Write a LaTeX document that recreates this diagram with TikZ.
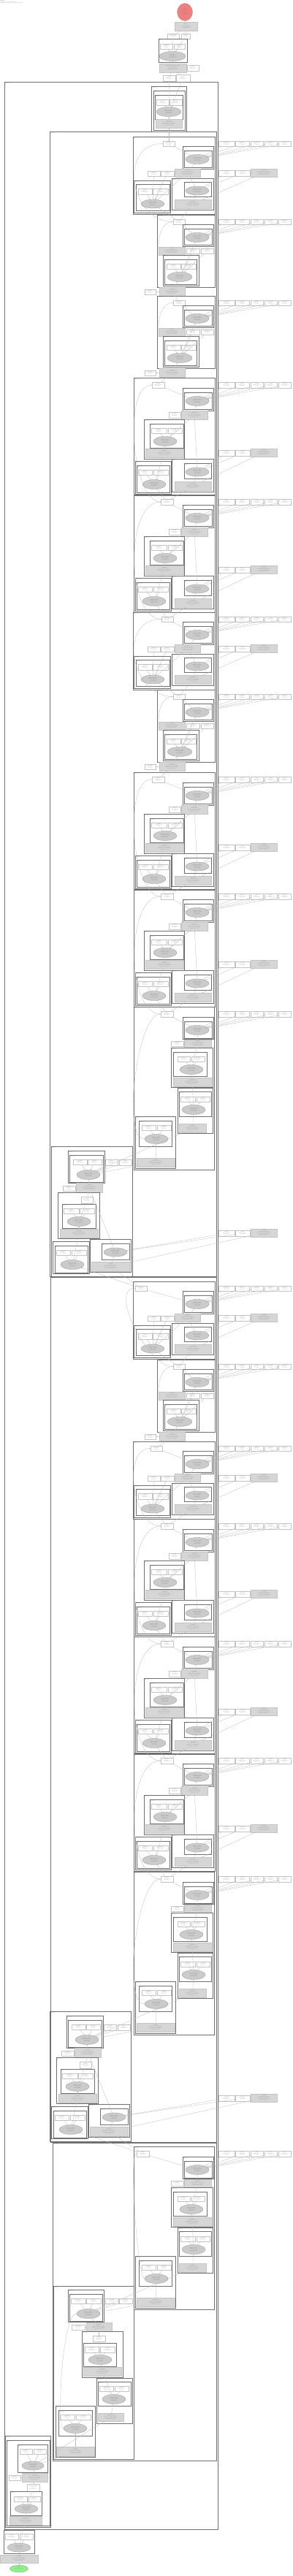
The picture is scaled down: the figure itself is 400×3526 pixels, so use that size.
\documentclass[tikz,border=0pt]{standalone}
\usetikzlibrary{arrows.meta,shapes.geometric}
\definecolor{clc}{HTML}{707070}
\definecolor{edc}{HTML}{B8B8B8}
\definecolor{gfl}{HTML}{D6D6D6}
\definecolor{bdc}{HTML}{C4C4C4}
\definecolor{redf}{HTML}{F08080}
\definecolor{grnf}{HTML}{90EE90}
\tikzset{
  every node/.style={inner sep=0pt, outer sep=0pt},
  txt/.style={font=\fontsize{1.3}{1.55}\selectfont, align=center, text=black!55},
  clus/.style={draw=clc, line width=0.45pt, rectangle},
  bigclus/.style={draw=clc, line width=0.8pt, rectangle},
  clab/.style={anchor=north west, font=\fontsize{1.05}{1.25}\selectfont, align=left, text=black!60},
  wbox/.style={txt, draw=bdc, fill=white, line width=0.25pt, rectangle},
  gbox/.style={txt, draw=gfl!92!black, fill=gfl, line width=0.2pt, rectangle},
  gell/.style={txt, draw=black!40, fill=gfl!95!black, line width=0.3pt, ellipse},
  redell/.style={txt, ellipse, draw=black!40, fill=redf, line width=0.3pt},
  grnell/.style={txt, ellipse, draw=black!40, fill=grnf, line width=0.3pt},
  edge/.style={draw=edc, line width=0.28pt, -{Stealth[length=1.3pt,width=1pt]}},
}
\newcommand\WTX{\textbf{param}\\f32[64,64,1,1]\\(weight)}
\newcommand\GTX{\textbf{conv2d}\\x: f32[1,64,56,56]\\stride=(1,1) pad=(0,0)\\groups=1 bias=False\\f32[1,64,56,56]}
\newcommand\ETX{\textbf{batch\_norm}\\f32[1,64,56,56]\\eps=1e-05\\train=False}
\newcommand\CLT{\textbf{layer}\\Bottleneck}
\newcommand\offx{0}
\newcommand\offy{0}
\newcommand\RBX[7]{%
  \pgfmathsetmacro\rba{#2+\offx}\pgfmathsetmacro\rbb{#3+\offy}%
  \pgfmathsetmacro\rbc{#4+\offx}\pgfmathsetmacro\rbd{#5+\offy}%
  \pgfmathsetmacro\rbw{\rbc-\rba}\pgfmathsetmacro\rbh{\rbd-\rbb}%
  \pgfmathsetmacro\rbx{(\rba+\rbc)/2}\pgfmathsetmacro\rby{(\rbb+\rbd)/2}%
  \node[#6, minimum width=\rbw pt, minimum height=\rbh pt] (#1) at (\rbx,\rby) {#7};}
\newcommand\CLX[6]{\RBX{#1}{#2}{#3}{#4}{#5}{clus}{}%
  \node[clab] (#1lab) at ([xshift=0.6pt,yshift=-0.4pt]#1.north west) {#6};}
\newcommand\BCX[6]{\RBX{#1}{#2}{#3}{#4}{#5}{bigclus}{}%
  \node[clab] (#1lab) at ([xshift=0.8pt,yshift=-0.6pt]#1.north west) {#6};}
\newcommand\ELX[6]{%
  \pgfmathsetmacro\rbx{#2+\offx}\pgfmathsetmacro\rby{#3+\offy}%
  \pgfmathsetmacro\rbw{2*#4}\pgfmathsetmacro\rbh{2*#5}%
  \node[gell, minimum width=\rbw pt, minimum height=\rbh pt] (#1) at (\rbx,\rby) {#6};}
\newcommand\EDX[2]{\draw[edge] (#1) -- (#2);}
\newcommand\SKX[3]{\draw[edge] (#1.west) .. controls +(-#3,0) and +(-#3,0) .. (#2.west);}
\newcommand\OFIVE[3]{%
  \RBX{#1o1}{299}{#2}{321}{#3}{wbox}{\WTX}\RBX{#1o2}{322}{#2}{341}{#3}{wbox}{\WTX}%
  \RBX{#1o3}{343}{#2}{360}{#3}{wbox}{\WTX}\RBX{#1o4}{362}{#2}{379}{#3}{wbox}{\WTX}%
  \RBX{#1o5}{381}{#2}{398}{#3}{wbox}{\WTX}%
  \foreach \k in {1,...,5}{\EDX{#1o\k}{#1re}}}
\newcommand\OTWO[4]{%
  \RBX{#1ob1}{299}{#2}{321}{#2+8}{wbox}{\WTX}%
  \RBX{#1ob2}{322}{#2}{342}{#2+8}{wbox}{\WTX}%
  \RBX{#1obg}{343}{#2-2}{379}{#2+9}{gbox}{\GTX}%
  \EDX{#1ob1}{#3}\EDX{#1ob2}{#3}\EDX{#1obg}{#4}}
% ---------- block P
\newcommand\blkP[3]{%
  \renewcommand\offx{0}\renewcommand\offy{#2}%
  \CLX{#1}{182}{0}{294}{106}{\CLT}%
  \RBX{#1tw}{#3}{6}{#3+16}{13}{wbox}{\WTX}%
  \CLX{#1rc}{250}{13}{292}{44}{\CLT}\CLX{#1rci}{252}{19}{290}{42}{\CLT}%
  \ELX{#1re}{270}{31}{16}{6.5}{\ETX}%
  \RBX{#1g1}{239}{44}{274}{55}{gbox}{\GTX}%
  \RBX{#1w1}{202}{47}{219}{54}{wbox}{\WTX}\RBX{#1w2}{220}{47}{238}{54}{wbox}{\WTX}%
  \CLX{#1lc}{183}{60}{233}{104}{\CLT}\CLX{#1lci}{186}{65}{232}{101}{\CLT}%
  \RBX{#1lw1}{189}{71}{208}{79}{wbox}{\WTX}\RBX{#1lw2}{209}{71}{230}{79}{wbox}{\WTX}%
  \ELX{#1le}{209}{92}{16}{6}{\ETX}%
  \CLX{#1bc}{235}{57}{292}{100}{\CLT}\CLX{#1bci}{252}{62}{289}{82}{\CLT}%
  \ELX{#1be}{270}{74}{16}{6}{\ETX}%
  \RBX{#1bg}{239}{86}{289}{98}{gbox}{\GTX}%
  \OFIVE{#1}{6}{13}\OTWO{#1}{46}{#1be}{#1bg}%
  \EDX{#1re}{#1tw}\EDX{#1g1}{#1re}\EDX{#1w1}{#1le}\EDX{#1w2}{#1le}%
  \EDX{#1lw1}{#1le}\EDX{#1lw2}{#1le}\EDX{#1le}{#1g1}\EDX{#1bg}{#1be}\EDX{#1be}{#1g1}}
% ---------- block Q
\newcommand\blkQ[2]{%
  \renewcommand\offx{0}\renewcommand\offy{#2}%
  \CLX{#1}{215}{0}{294}{99}{\CLT}%
  \RBX{#1tw}{237}{6}{253}{13}{wbox}{\WTX}%
  \CLX{#1rc}{250}{13}{292}{43}{\CLT}\CLX{#1rci}{252}{19}{290}{41}{\CLT}%
  \ELX{#1re}{270}{31}{16}{6.5}{\ETX}%
  \RBX{#1g1}{217}{44}{253}{55}{gbox}{\GTX}%
  \RBX{#1w1}{255}{46}{273}{53}{wbox}{\WTX}\RBX{#1w2}{275}{46}{292}{53}{wbox}{\WTX}%
  \CLX{#1mc}{223}{55}{272}{97}{\CLT}\CLX{#1mci}{225}{61}{269}{95}{\CLT}%
  \RBX{#1mw1}{228}{67}{247}{74}{wbox}{\WTX}\RBX{#1mw2}{248}{67}{268}{74}{wbox}{\WTX}%
  \ELX{#1me}{246}{85}{17}{6.5}{\ETX}%
  \RBX{#1bw}{198}{102}{213}{109}{wbox}{\WTX}\RBX{#1bg}{218}{99}{253}{111}{gbox}{\GTX}%
  \OFIVE{#1}{6}{13}%
  \EDX{#1re}{#1tw}\EDX{#1w1}{#1me}\EDX{#1w2}{#1me}\EDX{#1mw1}{#1me}\EDX{#1mw2}{#1me}%
  \EDX{#1me}{#1re}\EDX{#1bg}{#1me}\EDX{#1bw}{#1bg}%
  \draw[edge] (#1g1.north west) to[out=90,in=180] (#1tw.west);}
% ---------- block R
\newcommand\blkR[3]{%
  \renewcommand\offx{0}\renewcommand\offy{#2}%
  \CLX{#1}{183}{0}{294}{161}{\CLT}%
  \RBX{#1tw}{#3}{6}{#3+17}{14}{wbox}{\WTX}%
  \CLX{#1rc}{250}{14}{292}{45}{\CLT}\CLX{#1rci}{252}{20}{290}{43}{\CLT}%
  \ELX{#1re}{270}{32}{16}{6.5}{\ETX}%
  \RBX{#1w1}{231}{47}{247}{55}{wbox}{\WTX}\RBX{#1g1}{248}{45}{284}{57}{gbox}{\GTX}%
  \CLX{#1mc}{197}{57}{252}{111}{\CLT}\CLX{#1mci}{205}{63}{251}{96}{\CLT}%
  \RBX{#1mw1}{207}{69}{228}{76}{wbox}{\WTX}\RBX{#1mw2}{230}{69}{249}{76}{wbox}{\WTX}%
  \ELX{#1me}{226}{87}{16}{6.5}{\ETX}%
  \RBX{#1mg}{199}{97}{251}{109}{gbox}{\GTX}%
  \CLX{#1lc}{185}{114}{234}{159}{\CLT}\CLX{#1lci}{187}{120}{232}{157}{\CLT}%
  \RBX{#1lw1}{189}{126}{208}{133}{wbox}{\WTX}\RBX{#1lw2}{210}{126}{230}{133}{wbox}{\WTX}%
  \ELX{#1le}{211}{146}{16}{6.5}{\ETX}%
  \CLX{#1bc}{235}{111}{292}{156}{\CLT}\CLX{#1bci}{252}{117}{289}{138}{\CLT}%
  \ELX{#1be}{270}{129}{16}{6}{\ETX}%
  \RBX{#1bg}{239}{142}{289}{154}{gbox}{\GTX}%
  \OFIVE{#1}{6}{14}\OTWO{#1}{99}{#1be}{#1bg}%
  \EDX{#1re}{#1tw}\EDX{#1g1}{#1re}\EDX{#1w1}{#1g1}\EDX{#1me}{#1g1}%
  \EDX{#1mw1}{#1me}\EDX{#1mw2}{#1me}\EDX{#1mg}{#1me}\EDX{#1le}{#1mg}%
  \EDX{#1lw1}{#1le}\EDX{#1lw2}{#1le}\EDX{#1bg}{#1be}\EDX{#1be}{#1g1}}
% ---------- block S
\newcommand\blkS[3]{%
  \renewcommand\offx{0}\renewcommand\offy{#2}%
  \CLX{#1}{183}{0}{293}{223}{\CLT}%
  \RBX{#1tw}{#3}{6}{#3+17}{14}{wbox}{\WTX}%
  \CLX{#1rc}{250}{14}{292}{44}{\CLT}\CLX{#1rci}{252}{20}{290}{43}{\CLT}%
  \ELX{#1re}{270}{32}{16}{6.5}{\ETX}%
  \RBX{#1w1}{234}{47}{251}{54}{wbox}{\WTX}\RBX{#1g1}{252}{45}{289}{56}{gbox}{\GTX}%
  \CLX{#1c2}{234}{56}{291}{110}{\CLT}\CLX{#1c2i}{237}{62}{283}{95}{\CLT}%
  \RBX{#1c2w1}{243}{68}{260}{75}{wbox}{\WTX}\RBX{#1c2w2}{262}{68}{280}{75}{wbox}{\WTX}%
  \ELX{#1c2e}{262}{86}{16}{6.5}{\ETX}%
  \RBX{#1c2g}{237}{97}{289}{109}{gbox}{\GTX}%
  \CLX{#1c3}{243}{111}{291}{173}{\CLT}\CLX{#1c3i}{245}{116}{289}{150}{\CLT}%
  \RBX{#1c3w1}{247}{123}{267}{130}{wbox}{\WTX}\RBX{#1c3w2}{269}{123}{287}{130}{wbox}{\WTX}%
  \ELX{#1c3e}{265}{141}{16}{6.5}{\ETX}%
  \RBX{#1c3g}{245}{160}{282}{172}{gbox}{\GTX}%
  \CLX{#1c4}{185}{150}{240}{221}{\CLT}\CLX{#1c4i}{190}{156}{235}{191}{\CLT}%
  \RBX{#1c4w1}{194}{162}{213}{169}{wbox}{\WTX}\RBX{#1c4w2}{215}{162}{234}{169}{wbox}{\WTX}%
  \ELX{#1c4e}{214}{181}{16}{6.5}{\ETX}%
  \RBX{#1c4g}{187}{207}{239}{219}{gbox}{\GTX}%
  \OFIVE{#1}{6}{14}%
  \EDX{#1re}{#1tw}\EDX{#1g1}{#1re}\EDX{#1w1}{#1g1}\EDX{#1c2e}{#1g1}%
  \EDX{#1c2w1}{#1c2e}\EDX{#1c2w2}{#1c2e}\EDX{#1c2g}{#1c2e}\EDX{#1c3e}{#1c2g}%
  \EDX{#1c3w1}{#1c3e}\EDX{#1c3w2}{#1c3e}\EDX{#1c3g}{#1c3e}%
  \EDX{#1c4w1}{#1c4e}\EDX{#1c4w2}{#1c4e}\EDX{#1c4g}{#1c4e}%
  \pgfmathsetmacro\cco{max(6,((#3+198)/2-185)/0.75)}%
  \draw[edge] (#1c4e.west) .. controls +(-\cco,0) and +(-\cco,0) .. (#1tw.west);}
% ---------- block L
\newcommand\blkL[3]{%
  \renewcommand\offx{#3}\renewcommand\offy{#2}%
  \CLX{#1}{70}{0}{181}{178}{\CLT}%
  \CLX{#1tc}{93}{6}{143}{50}{\CLT}\CLX{#1tci}{95}{12}{141}{49}{\CLT}%
  \RBX{#1tw1}{100}{18}{119}{25}{wbox}{\WTX}\RBX{#1tw2}{120}{18}{139}{25}{wbox}{\WTX}%
  \ELX{#1te}{121}{39}{16}{6.5}{\ETX}%
  \RBX{#1ow1}{144}{18}{161}{26}{wbox}{\WTX}\RBX{#1ow2}{163}{18}{180}{26}{wbox}{\WTX}%
  \RBX{#1w1}{86}{54}{103}{61}{wbox}{\WTX}\RBX{#1g1}{104}{50}{140}{63}{gbox}{\GTX}%
  \CLX{#1mc}{79}{63}{136}{126}{\CLT}%
  \RBX{#1mw}{111}{69}{127}{78}{wbox}{\WTX}%
  \CLX{#1mci}{85}{79}{131}{112}{\CLT}%
  \RBX{#1mw1}{87}{85}{108}{92}{wbox}{\WTX}\RBX{#1mw2}{109}{85}{129}{92}{wbox}{\WTX}%
  \ELX{#1me}{108}{103}{16}{6.5}{\ETX}%
  \RBX{#1mg}{82}{113}{134}{125}{gbox}{\GTX}%
  \CLX{#1lc}{72}{130}{122}{174}{\CLT}\CLX{#1lci}{75}{136}{120}{173}{\CLT}%
  \RBX{#1lw1}{77}{142}{96}{149}{wbox}{\WTX}\RBX{#1lw2}{98}{142}{118}{149}{wbox}{\WTX}%
  \ELX{#1le}{99}{162}{16}{6.5}{\ETX}%
  \CLX{#1bc}{123}{127}{179}{172}{\CLT}\CLX{#1bci}{139}{133}{177}{155}{\CLT}%
  \ELX{#1be}{158}{145}{16}{6}{\ETX}%
  \RBX{#1bg}{125}{158}{177}{171}{gbox}{\GTX}%
  \renewcommand\offx{0}\OTWO{#1}{115}{#1be}{#1bg}%
  \EDX{#1tw1}{#1te}\EDX{#1tw2}{#1te}\EDX{#1ow1}{#1te}\EDX{#1ow2}{#1te}%
  \EDX{#1g1}{#1te}\EDX{#1w1}{#1g1}\EDX{#1mw}{#1g1}\EDX{#1me}{#1mw}%
  \EDX{#1mw1}{#1me}\EDX{#1mw2}{#1me}\EDX{#1mg}{#1me}\EDX{#1le}{#1mg}%
  \EDX{#1lw1}{#1le}\EDX{#1lw2}{#1le}\EDX{#1bg}{#1be}\EDX{#1be}{#1g1}}
% ---------- block T
\newcommand\blkT[2]{%
  \renewcommand\offx{0}\renewcommand\offy{#2}%
  \CLX{#1}{73}{0}{183}{237}{\CLT}%
  \CLX{#1tc}{93}{5}{142}{49}{\CLT}\CLX{#1tci}{95}{11}{140}{48}{\CLT}%
  \RBX{#1tw1}{97}{17}{117}{24}{wbox}{\WTX}\RBX{#1tw2}{118}{17}{138}{24}{wbox}{\WTX}%
  \ELX{#1te}{121}{38}{16}{6.5}{\ETX}%
  \RBX{#1ow1}{144}{17}{162}{24}{wbox}{\WTX}\RBX{#1ow2}{163}{17}{181}{24}{wbox}{\WTX}%
  \RBX{#1w1}{98}{53}{116}{60}{wbox}{\WTX}\RBX{#1g1}{118}{50}{153}{62}{gbox}{\GTX}%
  \CLX{#1mc}{112}{62}{168}{125}{\CLT}\RBX{#1mw}{127}{68}{144}{76}{wbox}{\WTX}%
  \CLX{#1mci}{114}{78}{159}{110}{\CLT}%
  \RBX{#1mw1}{116}{83}{135}{91}{wbox}{\WTX}\RBX{#1mw2}{137}{83}{157}{91}{wbox}{\WTX}%
  \ELX{#1me}{137}{101}{16}{6.5}{\ETX}%
  \RBX{#1mg}{114}{111}{166}{123}{gbox}{\GTX}%
  \CLX{#1rc}{132}{126}{181}{188}{\CLT}\CLX{#1rci}{134}{131}{179}{164}{\CLT}%
  \RBX{#1rw1}{136}{137}{155}{144}{wbox}{\WTX}\RBX{#1rw2}{157}{137}{176}{144}{wbox}{\WTX}%
  \ELX{#1re}{156}{155}{16}{6.5}{\ETX}%
  \RBX{#1rg}{134}{174}{169}{185}{gbox}{\GTX}%
  \CLX{#1lc}{76}{164}{130}{234}{\CLT}\CLX{#1lci}{80}{170}{126}{205}{\CLT}%
  \RBX{#1lw1}{82}{176}{102}{183}{wbox}{\WTX}\RBX{#1lw2}{104}{176}{124}{183}{wbox}{\WTX}%
  \ELX{#1le}{103}{195}{16}{6.5}{\ETX}%
  \RBX{#1lg}{77}{220}{129}{233}{gbox}{\GTX}%
  \EDX{#1tw1}{#1te}\EDX{#1tw2}{#1te}\EDX{#1ow1}{#1te}\EDX{#1ow2}{#1te}%
  \EDX{#1g1}{#1te}\EDX{#1w1}{#1g1}\EDX{#1mw}{#1g1}\EDX{#1me}{#1mw}%
  \EDX{#1mw1}{#1me}\EDX{#1mw2}{#1me}\EDX{#1mg}{#1me}\EDX{#1re}{#1mg}%
  \EDX{#1rw1}{#1re}\EDX{#1rw2}{#1re}\EDX{#1rg}{#1re}%
  \EDX{#1lw1}{#1le}\EDX{#1lw2}{#1le}\EDX{#1lg}{#1le}%
  \draw[edge] (#1le.west) .. controls +(-10,0) and +(-20,0) .. (#1te.west);}
\begin{document}
\begin{tikzpicture}[x=1pt,y=-1pt]
\useasboundingbox (0,0) rectangle (400,3526);
\fill[white] (0,0) rectangle (400,3526);
\node[clab, font=\fontsize{1.4}{1.7}\selectfont] (title) at (0.5,0.5) {\textbf{model}\\ResNet (torch.nn.Module)\\inputs=1 outputs=1 params=44.5M};
% ---------- top
\node[redell, minimum width=21pt, minimum height=24pt] (out) at (253,16.5) {\textbf{output}\\f32[1,1000]\\logits\\softmax=False\\dtype=float32\\(result)};
\renewcommand\offx{0}\renewcommand\offy{0}
\RBX{rg}{239}{30}{270}{42}{gbox}{\textbf{linear}\\x: f32[1,2048]\\w: f32[1000,2048]\\f32[1,1000]}
\RBX{wA}{229}{46}{245}{53}{wbox}{\textbf{fc.weight}\\f32[1000,2048]\\param}
\RBX{wB}{248}{46}{260}{53}{wbox}{\textbf{fc.bias}\\f32[1000]\\param}
\CLX{tcl}{217}{53}{256}{85}{\textbf{head}\\Flatten}
\RBX{tcw1}{219}{60}{236}{67}{wbox}{\WTX}\RBX{tcw2}{238}{60}{253}{67}{wbox}{\WTX}
\ELX{tce}{236}{77}{18}{6.5}{\textbf{flatten}\\f32[1,2048]\\start\_dim=1\\end\_dim=-1}
\RBX{tg}{218}{87}{255}{99}{gbox}{\textbf{adaptive\_avg\_pool2d}\\x: f32[1,2048,7,7]\\output\_size=(1,1)\\f32[1,2048,1,1]}
\RBX{tgw}{256}{89}{272}{97}{wbox}{\WTX}
\RBX{tA}{223}{103}{240}{111}{wbox}{\WTX}\RBX{tB}{241}{102}{260}{112}{wbox}{\WTX}
% ---------- big clusters
\BCX{big}{6}{112}{298}{3462}{\textbf{backbone}\\Sequential}
\CLX{hc}{207}{118}{255}{180}{\CLT}\CLX{hci}{210}{124}{253}{178}{\CLT}\CLX{hci2}{212}{130}{250}{163}{\CLT}
\RBX{hw1}{214}{136}{231}{144}{wbox}{\WTX}\RBX{hw2}{232}{136}{249}{144}{wbox}{\WTX}
\ELX{he}{231}{153}{17}{6.5}{\ETX}
\RBX{hg}{213}{163}{249}{175}{gbox}{\GTX}
\BCX{LA}{68}{180}{296}{1747}{\textbf{layer3}\\Sequential}
\BCX{LB}{69}{1748}{296}{2932}{\textbf{layer2}\\Sequential}
\BCX{LC}{72}{2933}{296}{3368}{\textbf{layer1}\\Sequential}
% ---------- top edges
\EDX{rg}{out}\EDX{wA}{rg}\EDX{wB}{rg}\EDX{tce}{wA}\EDX{tce}{wB}
\EDX{tcw1}{tce}\EDX{tcw2}{tce}\EDX{tg}{tce}\EDX{tgw}{tg}
\EDX{tA}{tg}\EDX{tB}{tg}\EDX{he}{tA}\EDX{he}{tB}
\EDX{hw1}{he}\EDX{hw2}{he}\EDX{hg}{he}
% ---------- layer A
\blkP{Aa}{187}{223}
\blkQ{Ab}{294}
\blkQ{Ac}{405}
\blkR{Ad}{517}{208}
\blkR{Ae}{677}{220}
\blkP{Af}{838}{221}
\blkQ{Ag}{944}
\blkR{Ah}{1057}{208}
\blkR{Ai}{1217}{220}
\blkS{Aj}{1378}{220}
\blkL{Ak}{1569}{0}
% ---------- layer B
\blkP{Ba}{1754}{185}
\blkQ{Bb}{1861}
\blkP{Bc}{1973}{206}
\blkR{Bd}{2079}{220}
\blkR{Be}{2240}{220}
\blkR{Bf}{2400}{220}
\blkS{Bg}{2562}{220}
\blkL{Bh}{2753}{-2}
% ---------- layer C
\blkS{Ca}{2938}{187}
\blkT{Cb}{3129}
% ---------- stem and input
\renewcommand\offx{0}\renewcommand\offy{0}
\CLX{st}{7}{3334}{69}{3459}{\textbf{stem}\\Sequential}\CLX{sti}{9}{3340}{68}{3457}{\CLT}
\CLX{st1}{24}{3346}{65}{3384}{\CLT}
\RBX{sw1}{27}{3352}{44}{3359}{wbox}{\WTX}\RBX{sw2}{46}{3352}{63}{3359}{wbox}{\WTX}
\ELX{se1}{45}{3375}{15}{6}{\ETX}
\RBX{swx}{12}{3388}{28}{3395}{wbox}{\WTX}\RBX{sg1}{30}{3385}{65}{3397}{gbox}{\GTX}
\RBX{sw}{37}{3400}{54}{3410}{wbox}{\textbf{max\_pool2d}\\k=3 s=2\\pad=1\\f32[1,64,56,56]}
\CLX{st2}{14}{3410}{57}{3443}{\CLT}
\RBX{sw3}{19}{3417}{37}{3424}{wbox}{\WTX}\RBX{sw4}{38}{3417}{55}{3424}{wbox}{\WTX}
\ELX{se2}{36}{3434}{16}{6}{\ETX}
\RBX{sg2}{13}{3444}{57}{3456}{gbox}{\GTX}
\CLX{bcl}{5}{3463}{47}{3495}{\textbf{conv1}\\Conv2d}
\RBX{bw1}{7}{3468}{25}{3476}{wbox}{\WTX}\RBX{bw2}{27}{3468}{45}{3476}{wbox}{\WTX}
\ELX{bel}{26}{3487}{16}{6}{\ETX}
\RBX{bgr}{0}{3497}{52}{3508}{gbox}{\GTX}
\node[grnell, minimum width=25pt, minimum height=10pt] (inp) at (26,3516) {\textbf{input}\\f32[1,3,224,224]\\x};
\EDX{inp}{bgr}\EDX{bgr}{bel}\EDX{bw1}{bel}\EDX{bw2}{bel}\EDX{bel}{sg2}
\EDX{sg2}{se2}\EDX{sw3}{se2}\EDX{sw4}{se2}\EDX{se2}{sw}\EDX{sw}{sg1}\EDX{swx}{sg1}
\EDX{sg1}{se1}\EDX{sw1}{se1}\EDX{sw2}{se1}
\EDX{se1}{Cblg}\EDX{se1}{Cbrg}
% ---------- links between blocks
\EDX{Aatw}{hg}
\EDX{Abtw}{Aale}\EDX{Abtw}{Aabg}\SKX{Abtw}{Aatw}{61}
\EDX{Actw}{Abbg}
\EDX{Adtw}{Acbg}
\EDX{Aetw}{Adle}\EDX{Aetw}{Adbg}\SKX{Aetw}{Adtw}{40}
\EDX{Aftw}{Aele}\EDX{Aftw}{Aebg}\SKX{Aftw}{Aetw}{49}
\EDX{Agtw}{Afle}\EDX{Agtw}{Afbg}\SKX{Agtw}{Aftw}{60}
\EDX{Ahtw}{Agbg}
\EDX{Aitw}{Ahle}\EDX{Aitw}{Ahbg}\SKX{Aitw}{Ahtw}{40}
\EDX{Ajtw}{Aile}\EDX{Ajtw}{Aibg}\SKX{Ajtw}{Aitw}{48}
\EDX{Akte}{Ajc3g}\EDX{Akte}{Ajc4g}
\EDX{Batw}{Akle}\EDX{Batw}{Akbg}
\EDX{Bbtw}{Bale}\EDX{Bbtw}{Babg}\SKX{Bbtw}{Batw}{36}
\EDX{Bctw}{Bbbg}
\EDX{Bdtw}{Bcle}\EDX{Bdtw}{Bcbg}\SKX{Bdtw}{Bctw}{39}
\EDX{Betw}{Bdle}\EDX{Betw}{Bdbg}\SKX{Betw}{Bdtw}{48}
\EDX{Bftw}{Bele}\EDX{Bftw}{Bebg}\SKX{Bftw}{Betw}{48}
\EDX{Bgtw}{Bfle}\EDX{Bgtw}{Bfbg}\SKX{Bgtw}{Bftw}{48}
\EDX{Bhte}{Bgc3g}\EDX{Bhte}{Bgc4g}
\EDX{Catw}{Bhle}\EDX{Catw}{Bhbg}
\EDX{Cbte}{Cac3g}\EDX{Cbte}{Cac4g}
\end{tikzpicture}
\end{document}
